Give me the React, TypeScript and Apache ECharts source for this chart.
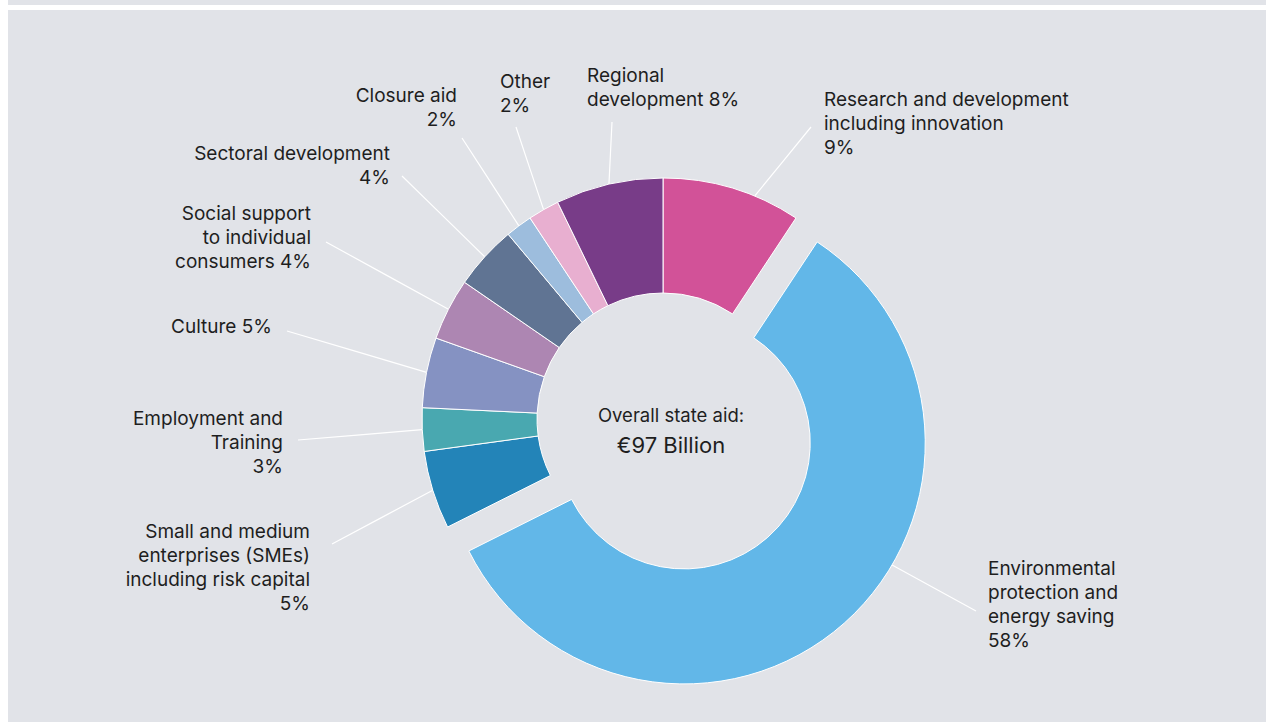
import React, { useEffect, useRef } from "react";
import * as echarts from "echarts";

// ---- data ----
const categories = [
  "Research and development including innovation",
  "Environmental protection and energy saving",
  "Small and medium enterprises (SMEs) including risk capital",
  "Employment and Training",
  "Culture",
  "Social support to individual consumers",
  "Sectoral development",
  "Closure aid",
  "Other",
  "Regional development",
];
// share of overall state aid (%)
const shares = [9.3, 58.3, 5.25, 2.9, 4.7, 4.15, 4.3, 1.8, 2.1, 7.2];
// percentages as printed on the labels
const printedPct = ["9%", "58%", "5%", "3%", "5%", "4%", "4%", "2%", "2%", "8%"];
const labelTexts = [
  "Research and development\nincluding innovation\n{p}",
  "Environmental\nprotection and\nenergy saving\n{p}",
  "Small and medium\nenterprises (SMEs)\nincluding risk capital\n{p}",
  "Employment and\nTraining\n{p}",
  "Culture {p}",
  "Social support\nto individual\nconsumers {p}",
  "Sectoral development\n{p}",
  "Closure aid\n{p}",
  "Other\n{p}",
  "Regional\ndevelopment {p}",
];
const colors = [
  "#d25298",
  "#62b7e8",
  "#2384b8",
  "#49a8b0",
  "#8592c2",
  "#ad86b2",
  "#607493",
  "#9dbddd",
  "#e8afd0",
  "#783c88",
];
const explodedIndex = 1;
const totalText = "€97 Billion";
const totalTitle = "Overall state aid:";

// ---- layout (chart coordinates; chart starts at page x=8) ----
const CX = 655;
const CY = 419;
const R_IN = 126;
const R_OUT = 241;
const EXPLODE = 32;
const FONT = "Inter, 'Open Sans', sans-serif";
const TEXT_COLOR = "#1e1e1e";

type LPos = { x: number; y: number; align: string; ex: number; ey: number; shift?: number };
const labelPos: LPos[] = [
  { x: 816, y: 87, align: "left", ex: 803, ey: 127, shift: 5.6 },
  { x: 980, y: 556, align: "left", ex: 968, ey: 611, shift: -18 },
  { x: 302, y: 519, align: "right", ex: 324, ey: 544 },
  { x: 275, y: 406, align: "right", ex: 290, ey: 440 },
  { x: 264, y: 314, align: "right", ex: 279, ey: 331 },
  { x: 303, y: 201, align: "right", ex: 318, ey: 242 },
  { x: 382, y: 141, align: "right", ex: 394, ey: 176 },
  { x: 449, y: 83, align: "right", ex: 454, ey: 138 },
  { x: 492, y: 69, align: "left", ex: 508, ey: 127 },
  { x: 579, y: 63, align: "left", ex: 604, ey: 122 },
];

function makeLayout(cx: number, cy: number) {
  return (params: any) => {
    const i = params.dataIndex;
    const L = labelPos[i];
    const pts = params.labelLinePoints;
    if (!L || !pts) return {};
    let start: number[] = [pts[0][0], pts[0][1]];
    if (L.shift) {
      const a = Math.atan2(start[1] - cy, start[0] - cx) + (L.shift * Math.PI) / 180;
      start = [cx + R_OUT * Math.cos(a), cy + R_OUT * Math.sin(a)];
    }
    const end = [L.ex, L.ey];
    return {
      x: L.x,
      y: L.y,
      align: L.align,
      verticalAlign: "top",
      labelLinePoints: [start, [(start[0] + end[0]) / 2, (start[1] + end[1]) / 2], end],
    };
  };
}

export default function App() {
  const ref = useRef<HTMLDivElement>(null);
  useEffect(() => {
    if (!ref.current) return;
    const chart = echarts.init(ref.current, null, { renderer: "svg" });

    // offset of the exploded slice, along its mid-angle
    const total = shares.reduce((s, v) => s + v, 0);
    const before = shares.slice(0, explodedIndex).reduce((s, v) => s + v, 0);
    const midFrac = (before + shares[explodedIndex] / 2) / total;
    const theta = midFrac * Math.PI * 2; // clockwise from 12 o'clock
    const ecx = CX + EXPLODE * Math.sin(theta);
    const ecy = CY - EXPLODE * Math.cos(theta);

    const makeData = (visible: (i: number) => boolean) =>
      categories.map((name, i) => {
        const v = visible(i);
        return {
          name,
          value: shares[i],
          itemStyle: v
            ? { color: colors[i], borderColor: "#ffffff", borderWidth: 1 }
            : { color: "rgba(0,0,0,0)", borderWidth: 0 },
          label: { show: v },
          labelLine: { show: v },
        };
      });

    const common = {
      type: "pie",
      radius: [R_IN, R_OUT],
      startAngle: 90,
      clockwise: true,
      avoidLabelOverlap: false,
      silent: true,
      emphasis: { disabled: true },
      label: {
        show: true,
        position: "outside",
        color: TEXT_COLOR,
        fontSize: 19,
        lineHeight: 24,
        fontFamily: FONT,
        formatter: (p: any) => labelTexts[p.dataIndex].replace("{p}", printedPct[p.dataIndex]),
      },
      labelLine: {
        show: true,
        length: 10,
        length2: 10,
        smooth: false,
        lineStyle: { color: "#ffffff", width: 1.2 },
      },
    };

    chart.setOption({
      animation: false,
      backgroundColor: "#e1e3e8",
      graphic: [
        {
          type: "rect",
          shape: { x: 0, y: 5, width: 1258, height: 5 },
          style: { fill: "#ffffff" },
          silent: true,
        },
        {
          type: "text",
          x: 663,
          y: 415,
          style: {
            text: totalTitle,
            fill: TEXT_COLOR,
            font: `18.5px ${FONT}`,
            textAlign: "center",
            textVerticalAlign: "middle",
          },
        },
        {
          type: "text",
          x: 663,
          y: 445,
          style: {
            text: totalText,
            fill: TEXT_COLOR,
            font: `22px ${FONT}`,
            textAlign: "center",
            textVerticalAlign: "middle",
          },
        },
      ],
      series: [
        {
          ...common,
          name: "main",
          center: [CX, CY],
          labelLayout: makeLayout(CX, CY),
          data: makeData((i) => i !== explodedIndex),
        },
        {
          ...common,
          name: "exploded",
          center: [ecx, ecy],
          labelLayout: makeLayout(ecx, ecy),
          data: makeData((i) => i === explodedIndex),
        },
      ],
    });
    return () => chart.dispose();
  }, []);
  return (
    <div
      ref={ref}
      style={{ position: "absolute", left: 8, top: 0, width: 1258, height: 722 }}
    />
  );
}
